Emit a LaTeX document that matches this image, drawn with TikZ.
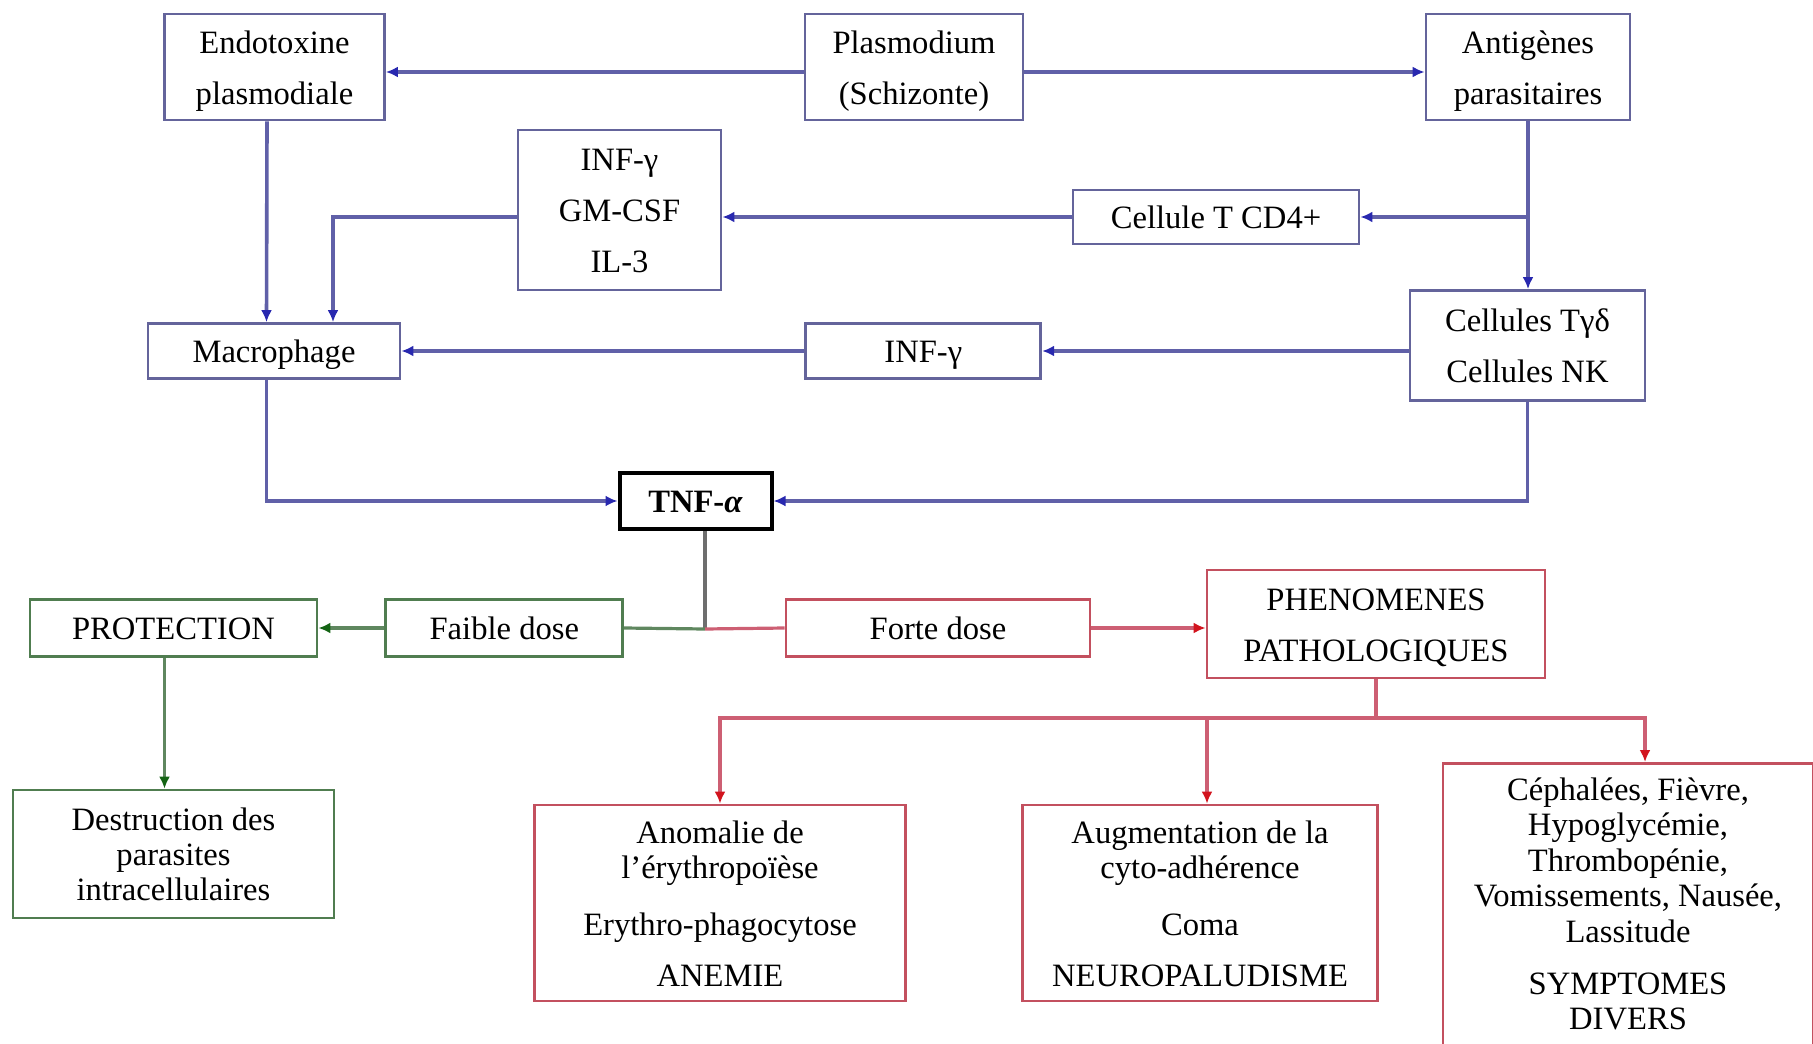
\documentclass[tikz,border=0pt]{standalone}
\usepackage{fontspec}
\setmainfont{Liberation Serif}
\usepackage{xcolor}
\definecolor{mybluli}{RGB}{96,96,168}
\definecolor{myblutip}{RGB}{40,40,175}
\definecolor{myblufr}{RGB}{100,100,155}
\definecolor{mygreli}{RGB}{95,135,95}
\definecolor{mygretip}{RGB}{20,100,20}
\definecolor{mygrefr}{RGB}{80,125,80}
\definecolor{myredli}{RGB}{205,95,115}
\definecolor{myredtip}{RGB}{210,20,30}
\definecolor{myredfr}{RGB}{195,80,95}
\definecolor{mygrali}{RGB}{110,110,110}
\usepackage{tikz}
\usetikzlibrary{positioning}
\usetikzlibrary{arrows.meta}
\newcommand{\topstrut}{\rule{0pt}{15.5pt}}
\newcommand{\botstrut}{\rule[-3.6pt]{0pt}{3.6pt}}
\tikzstyle{padded} = [execute at begin node=\topstrut, execute at end node=\botstrut]
\tikzstyle{cellbox} = [rectangle, draw=myblufr, line width=1.4pt, text centered, inner sep=0pt, padded, font=\fontsize{16.3}{25.5}\selectfont]
\tikzstyle{goodbox} = [rectangle, draw=mygrefr, line width=1.4pt, text centered, inner sep=0pt, padded, font=\fontsize{16.3}{17.5}\selectfont]
\tikzstyle{badbox} = [rectangle, draw=myredfr, line width=1.4pt, text centered, inner sep=0pt, padded, font=\fontsize{16.3}{17.5}\selectfont]
\tikzstyle{tnfbox} = [rectangle, draw=black, line width=2pt, text centered, inner sep=0pt, padded, font=\fontsize{16.3}{17.5}\selectfont\bfseries]
\tikzstyle{blueflow} = [mybluli, line width=1.8pt, -{Latex[length=6pt,width=5.5pt,color=myblutip]}]
\tikzstyle{greenflow} = [mygreli, line width=1.6pt, -{Latex[length=6pt,width=5.5pt,color=mygretip]}]
\tikzstyle{redflow} = [myredli, line width=1.6pt, -{Latex[length=6pt,width=5.5pt,color=myredtip]}]
\tikzstyle{greenline} = [mygreli, line width=1.6pt]
\tikzstyle{redline} = [myredli, line width=1.6pt]
\tikzstyle{grayline} = [mygrali, line width=1.6pt]

\begin{document}
\begin{tikzpicture}[x=0.5pt,y=-0.5pt,align=center]
	\useasboundingbox (0,0) rectangle (1813,1043);
	% top row
	\node (endo) [cellbox, minimum width=110pt, minimum height=53pt] at (274.5,67) {\topstrut Endotoxine\\plasmodiale};
	\node (plas) [cellbox, minimum width=109pt, minimum height=53pt] at (914,67) {\topstrut Plasmodium\\(Schizonte)};
	\node (anti) [cellbox, minimum width=102pt, minimum height=53pt] at (1528,67) {\topstrut Antigènes\\parasitaires};
	\node (cyto) [cellbox, minimum width=101.5pt, minimum height=80pt] at (619.5,210) {\topstrut INF-γ\\GM-CSF\\IL-3};
	\node (cd4) [cellbox, minimum width=143pt, minimum height=27pt] at (1216,217) {Cellule T CD4+};
	\node (macro) [cellbox, minimum width=126pt, minimum height=27.5pt] at (274,351) {Macrophage};
	\node (infg) [cellbox, minimum width=117.5pt, minimum height=27.5pt, right=201.5pt of macro] {INF-γ};
	\node (tgd) [cellbox, minimum width=117.5pt, minimum height=55pt] at (1527.5,345.5) {\topstrut Cellules Tγδ\\Cellules NK};
	\node (tnf) [tnfbox, minimum width=76pt, minimum height=28pt] at (695.5,501) {TNF-\textit{α}};
	% effects
	\node (prot) [goodbox, minimum width=143.5pt, minimum height=28.5pt] at (173.5,628) {PROTECTION};
	\node (faible) [goodbox, minimum width=118.5pt, minimum height=28.5pt, right=33pt of prot] {Faible dose};
	\node (forte) [badbox, minimum width=152pt, minimum height=28.5pt] at (938,628) {Forte dose};
	\node (pheno) [badbox, minimum width=169pt, minimum height=54pt, font=\fontsize{16.3}{25.5}\selectfont] at (1376,624) {\topstrut PHENOMENES\\PATHOLOGIQUES};
	\node (destr) [goodbox, minimum width=160.5pt, minimum height=64pt] at (173.5,854) {\topstrut Destruction des\\parasites\\intracellulaires};
	\node (anom) [badbox, minimum width=185.5pt, minimum height=98pt] at (720,903) {\topstrut Anomalie de\\l’érythropoïèse\\[11pt]Erythro-phagocytose\\[8pt]ANEMIE};
	\node (augm) [badbox, minimum width=177.5pt, minimum height=98pt] at (1200,903) {\topstrut Augmentation de la\\cyto-adhérence\\[11pt]Coma\\[8pt]NEUROPALUDISME};
	\node (ceph) [badbox, padded/.style={}, execute at begin node={}, execute at end node={}, minimum width=185pt, inner ysep=7pt, anchor=north, font=\fontsize{16.3}{17.8}\selectfont] at (1628,762) {Céphalées, Fièvre,\\Hypoglycémie,\\Thrombopénie,\\Vomissements, Nausée,\\Lassitude\\[8pt]SYMPTOMES\\DIVERS\\[-6pt]\mbox{}};
	\coordinate (split) at (705,629);
	\coordinate (bus) at (1376,718);
	% connectors
	\draw [blueflow] ([yshift=-2.5pt]plas.west) -- ([yshift=-2.5pt]endo.east);
	\draw [blueflow] ([yshift=-2.5pt]plas.east) -- ([yshift=-2.5pt]anti.west);
	\draw [blueflow] ([xshift=-3.75pt]endo.south) -- ([xshift=-3.75pt]macro.north);
	\draw [blueflow] (cyto.west |- cd4.west) -| ([xshift=29.5pt]macro.north);
	\draw [blueflow] (cd4.west) -- (cd4.west -| cyto.east);
	\draw [blueflow] (anti.south) -- (anti.south |- tgd.north);
	\draw [blueflow] (anti.south |- cd4.east) -- (cd4.east);
	\draw [blueflow] (tgd.west |- infg.east) -- (infg.east);
	\draw [blueflow] (infg.west) -- (macro.east);
	\draw [blueflow] ([xshift=-3.75pt]macro.south) |- (tnf.west);
	\draw [blueflow] (tgd.south) |- (tnf.east);
	\draw [grayline] (tnf.south -| split) -- (split);
	\draw [greenline] (split) -- (faible.east);
	\draw [greenflow] (faible.west) -- (prot.east);
	\draw [greenflow] ([xshift=-4.5pt]prot.south) -- ([xshift=-4.5pt]destr.north);
	\draw [redline] (split) -- (forte.west);
	\draw [redflow] (forte.east) -- (forte.east -| pheno.west);
	\draw [redline] (pheno.south) -- (bus);
	\draw [redflow] (bus) -| (anom.north);
	\draw [redflow] (bus) -| ([xshift=3.5pt]augm.north);
	\draw [redflow] (bus) -| ([xshift=8.5pt]ceph.north);
\end{tikzpicture}
\end{document}
